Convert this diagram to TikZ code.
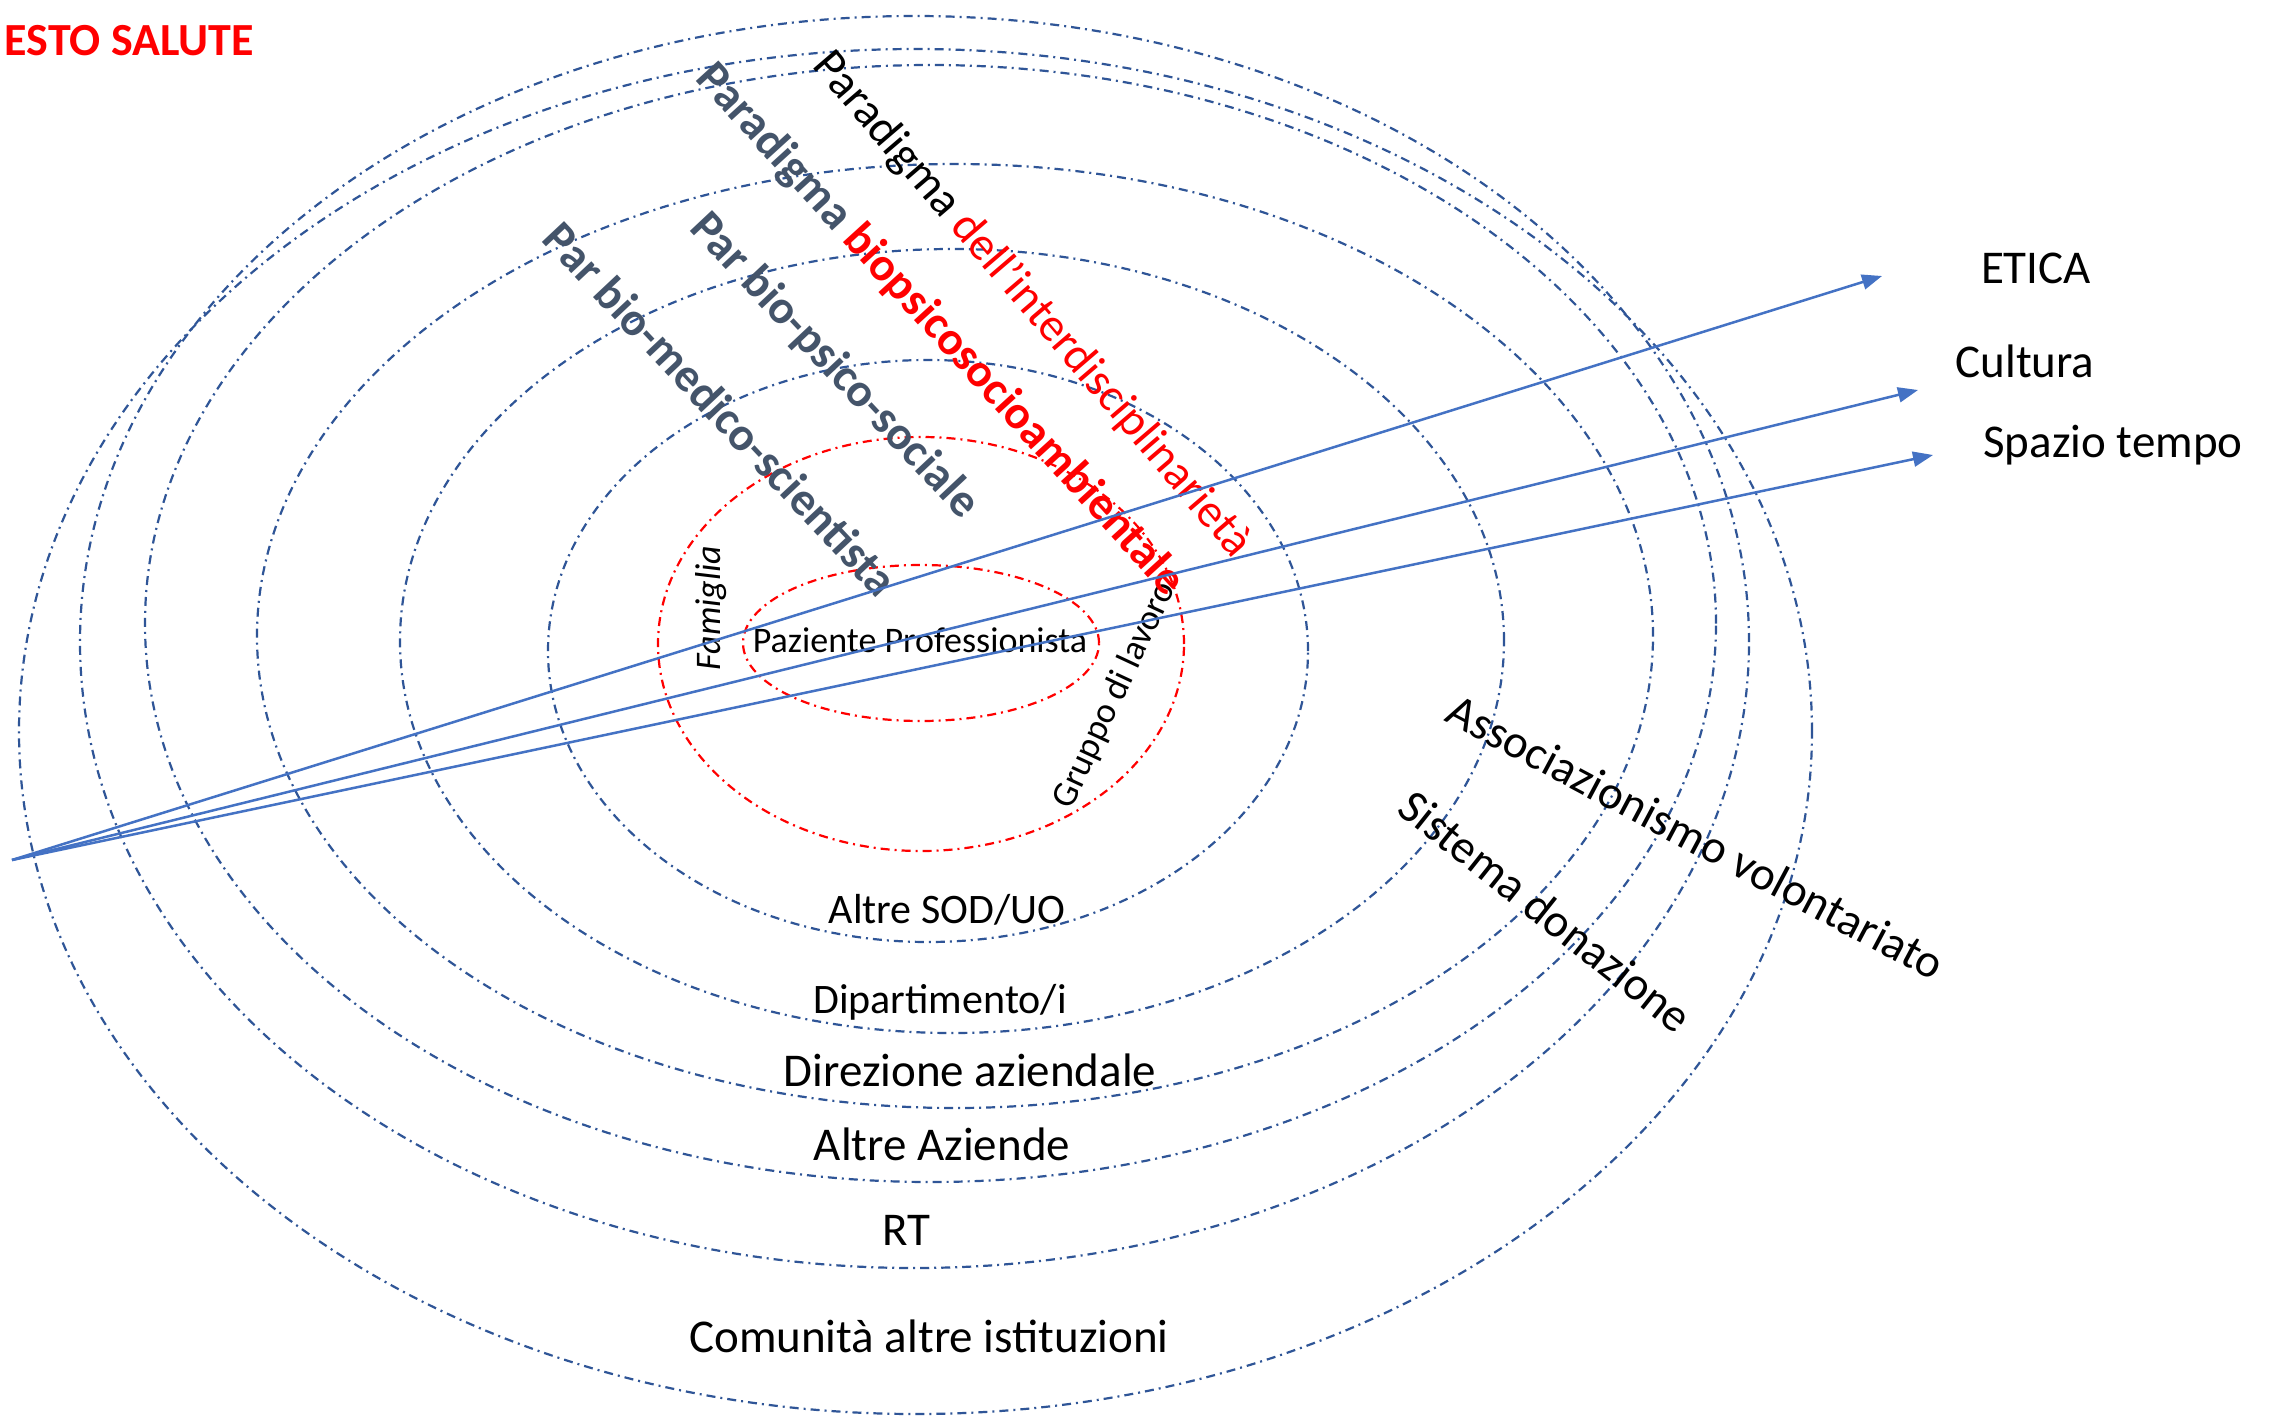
\documentclass[tikz,border=0pt]{standalone}
\usepackage{fontspec}
\setmainfont{Carlito}
\usetikzlibrary{arrows.meta}
\definecolor{ringblue}{HTML}{2F5597}
\definecolor{ringred}{HTML}{FF0000}
\definecolor{arrowblue}{HTML}{4472C4}
\definecolor{slate}{HTML}{44546A}
\definecolor{pured}{HTML}{FF0000}
\begin{document}
\begin{tikzpicture}[x=1pt,y=-1pt,
  ring/.style={draw=ringblue, line width=2.2pt, dash pattern=on 9pt off 5pt on 2pt off 5pt},
  redring/.style={ring, draw=ringred},
  vec/.style={draw=arrowblue, line width=2.5pt, -{Triangle[length=20pt,width=15pt]}},
  big/.style={font=\fontsize{47}{56}\selectfont, inner sep=0pt},
  mid/.style={font=\fontsize{42}{50}\selectfont, inner sep=0pt},
  small/.style={font=\fontsize{36}{43}\selectfont, inner sep=0pt},
  bigbold/.style={font=\fontsize{47}{56}\selectfont\bfseries, inner sep=0pt, text=slate},
]
\fill[white] (0,0) rectangle (2280,1418);
\useasboundingbox (0,0) rectangle (2280,1418);

% rings
\draw[ring] (915.5,731.5) ellipse [x radius=896.5pt, y radius=682.5pt];
\draw[ring] (914.5,642) ellipse [x radius=834.5pt, y radius=626pt];
\draw[ring] (930.5,623.5) ellipse [x radius=785.5pt, y radius=558.5pt];
\draw[ring] (955,636) ellipse [x radius=698pt, y radius=472pt];
\draw[ring] (952,641) ellipse [x radius=552pt, y radius=392pt];
\draw[ring] (928,651) ellipse [x radius=380pt, y radius=291pt];
\draw[redring] (921,644) ellipse [x radius=263pt, y radius=207pt];
\draw[redring] (921,643) ellipse [x radius=178pt, y radius=78pt];

% title
\node[font=\fontsize{46}{55}\selectfont\bfseries, text=pured, inner sep=0pt, anchor=east] (title) at (254,41) {ESTO SALUTE};

% ring labels
\node[mid] (sod) at (947,910) {Altre SOD/UO};
\node[mid] (dip) at (940,1002) {Dipartimento/i};
\node[big] (dir) at (970,1070) {Direzione aziendale};
\node[big] (altaz) at (942,1144) {Altre Aziende};
\node[big] (rt) at (906,1230) {RT};
\node[big] (com) at (929,1336) {Comunità altre istituzioni};

% inner labels
\node[small] (paz) at (920,640) {Paziente Professionista};
\node[small, font=\fontsize{36}{43}\selectfont\itshape, rotate=90] (fam) at (711,608) {Famiglia};
\node[small, rotate=65] (grp) at (1115,695) {Gruppo di lavoro};

% rotated labels
\node[big, rotate=-28] (assoc) at (1696,837) {Associazionismo volontariato};
\node[big, rotate=-38.5] (sist) at (1546,911) {Sistema donazione};
\node[big, rotate=-49.4] (pint) at (1032,305) {Paradigma \textcolor{pured}{dell’interdisciplinarietà}};
\node[bigbold, rotate=-47.7] (pbio) at (940,330) {Paradigma \textcolor{pured}{biopsicosocioambientale}};
\node[bigbold, rotate=-46.8] (ppsi) at (834,366) {Par bio-psico-sociale};
\node[bigbold, rotate=-46.8] (pmed) at (721,409) {Par bio-medico-scientista};

% arrows
\coordinate (O) at (12,860);
\coordinate (tE) at (1882,276);
\coordinate (tC) at (1918,390);
\coordinate (tS) at (1933,455);
\draw[vec] (O) -- (tE);
\draw[vec] (O) -- (tC);
\draw[vec] (O) -- (tS);

% arrow labels
\node[big] (etica) at (2036,268) {ETICA};
\node[big] (cultura) at (2025,361) {Cultura};
\node[big] (spazio) at (2113,445) {Spazio tempo};
\end{tikzpicture}
\end{document}
